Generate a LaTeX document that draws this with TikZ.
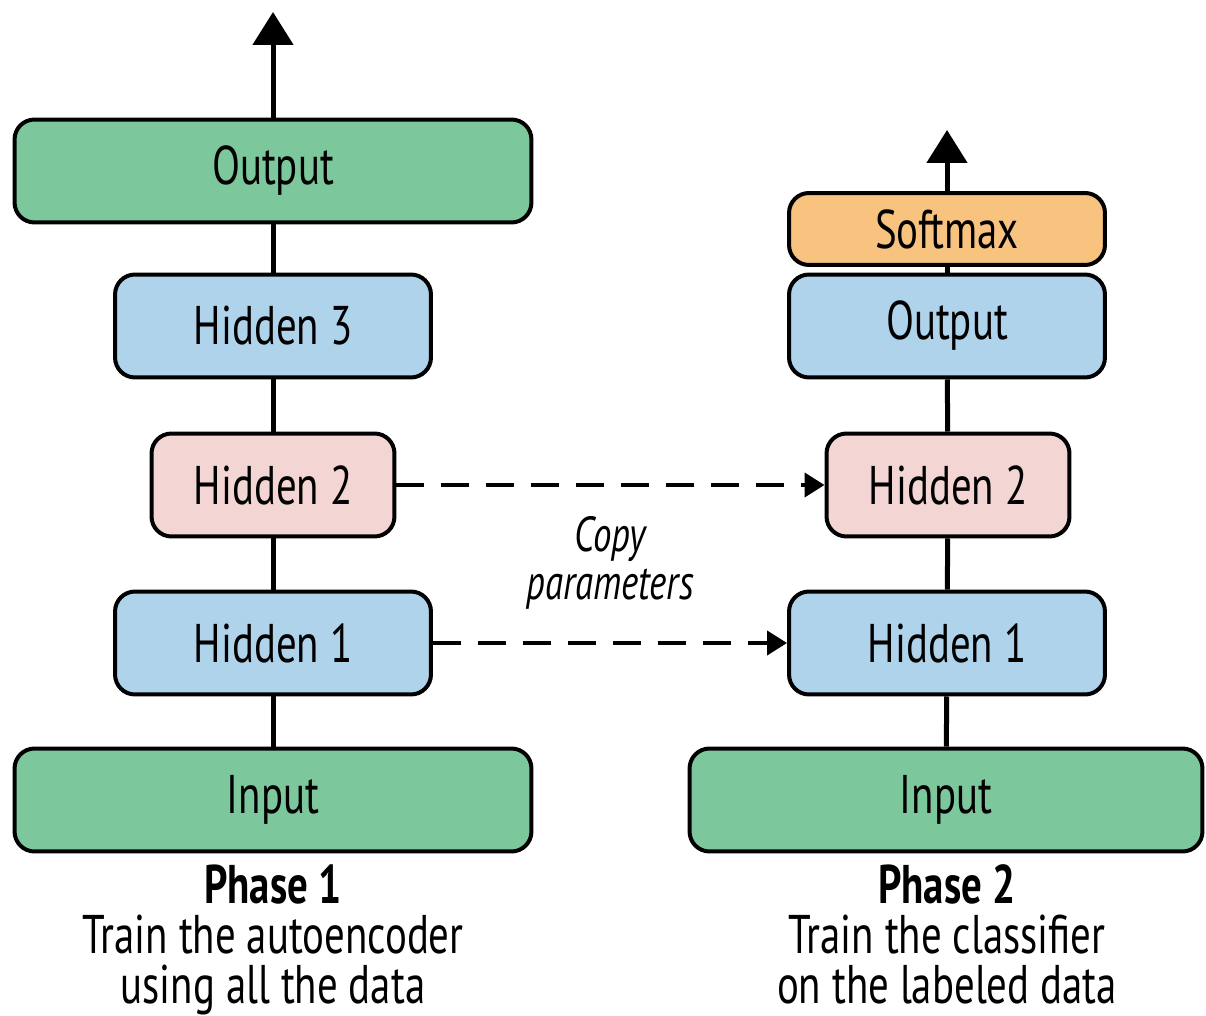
\documentclass[tikz,border=0pt]{standalone}
\usepackage{fontspec}
\setmainfont[FakeStretch=0.75]{PT Sans}
\usetikzlibrary{arrows.meta}

\definecolor{layergreen}{HTML}{7CC79B}
\definecolor{layerblue}{HTML}{AED3EA}
\definecolor{layerpink}{HTML}{F3D6D4}
\definecolor{layerorange}{HTML}{F8C37F}

\begin{document}
\begin{tikzpicture}[x=0.02cm,y=-0.02cm,
  layer/.style={draw,line width=0.08cm,rounded corners=0.4cm,inner sep=0pt,
    minimum height=2.06cm,font=\fontsize{31}{34}\selectfont},
  wide/.style={minimum width=10.34cm},
  mid/.style={minimum width=6.32cm},
  narrow/.style={minimum width=4.86cm},
  conn/.style={line width=0.1cm},
  upout/.style={conn,-{Triangle[width=0.8cm,length=0.66cm]}},
  copyarrow/.style={line width=0.08cm,dash pattern=on 0.56cm off 0.34cm,
    -{Triangle[width=0.48cm,length=0.4cm]}},
  caption/.style={align=center,inner sep=0pt,font=\fontsize{31}{28.5}\selectfont}]
\useasboundingbox (0,0) rectangle (1206,1016);

% phase 1: the autoencoder
\node[layer,wide,fill=layergreen] (outA) at (273,171) {Output};
\node[layer,mid,fill=layerblue] (hthreeA) at (273,326) {Hidden 3};
\node[layer,narrow,fill=layerpink] (htwoA) at (273,485) {Hidden 2};
\node[layer,mid,fill=layerblue] (honeA) at (273,643) {Hidden 1};
\node[layer,wide,fill=layergreen] (inA) at (273,800) {Input};
\coordinate (topA) at (273,12);

\draw[conn] (inA) -- (honeA);
\draw[conn] (honeA) -- (htwoA);
\draw[conn] (htwoA) -- (hthreeA);
\draw[conn] (hthreeA) -- (outA);
\draw[upout] (outA) -- (topA);

% phase 2: the classifier
\node[layer,mid,fill=layerorange,minimum height=1.44cm] (softB) at (947,229) {Softmax};
\node[layer,mid,fill=layerblue] (outB) at (947,326) {Output};
\node[layer,narrow,fill=layerpink] (htwoB) at (948,485) {Hidden 2};
\node[layer,mid,fill=layerblue] (honeB) at (947,643) {Hidden 1};
\node[layer,minimum width=10.26cm,fill=layergreen] (inB) at (946,800) {Input};
\coordinate (topB) at (947,130);

\draw[conn] (inB) -- (honeB);
\draw[conn] (honeB) -- (htwoB);
\draw[conn] (htwoB) -- (outB);
\draw[conn] (outB) -- (softB);
\draw[upout] (softB) -- (topB);

% copied weights
\draw[copyarrow] (htwoA) -- (htwoB);
\draw[copyarrow] (honeA) -- (honeB);
\node[caption,font=\fontsize{28}{27}\selectfont\itshape] (copylbl) at (610,563) {Copy\\parameters};

% captions
\node[caption,anchor=north] (capA) at (273,864) {\textbf{Phase 1}\\Train the autoencoder\\using all the data};
\node[caption,anchor=north] (capB) at (947,864) {\textbf{Phase 2}\\Train the classifier\\on the labeled data};
\end{tikzpicture}
\end{document}
